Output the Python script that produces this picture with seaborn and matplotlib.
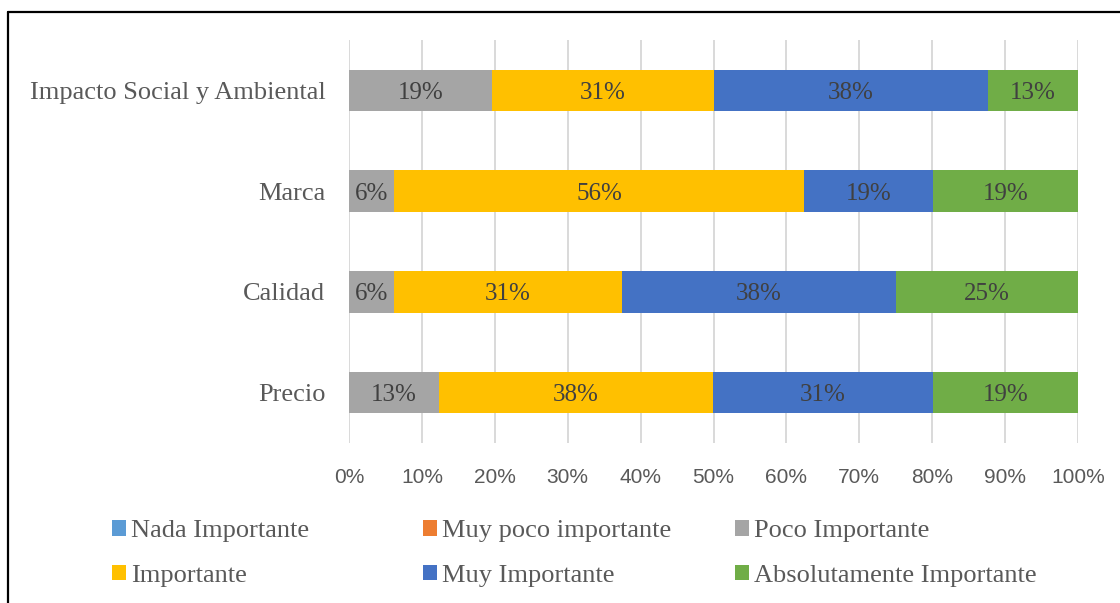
import matplotlib
matplotlib.use("Agg")
import matplotlib.pyplot as plt
from matplotlib.patches import Patch
from matplotlib.lines import Line2D
import seaborn as sns
import pandas as pd
import numpy as np

categories = ["Impacto Social y Ambiental", "Marca", "Calidad", "Precio"]
series = ["Nada Importante", "Muy poco importante", "Poco Importante",
          "Importante", "Muy Importante", "Absolutamente Importante"]
nada = [0.0, 0.0, 0.0, 0.0]
muy_poco = [0.0, 0.0, 0.0, 0.0]
poco = [19.6, 6.2, 6.2, 12.4]
importante = [30.4, 56.2, 31.2, 37.5]
muy_importante = [37.6, 17.7, 37.6, 30.2]
absolutamente = [12.4, 19.9, 25.0, 19.9]
poco_lbl = ["19%", "6%", "6%", "13%"]
importante_lbl = ["31%", "56%", "31%", "38%"]
muy_importante_lbl = ["38%", "19%", "38%", "31%"]
absolutamente_lbl = ["13%", "19%", "25%", "19%"]
xticks = [0, 10, 20, 30, 40, 50, 60, 70, 80, 90, 100]

colors = ["#5B9BD5", "#ED7D31", "#A5A5A5", "#FFC000", "#4472C4", "#70AD47"]
values = [nada, muy_poco, poco, importante, muy_importante, absolutamente]
labels = [None, None, poco_lbl, importante_lbl, muy_importante_lbl, absolutamente_lbl]

sns.set_theme(style="white")
plt.rcParams["font.family"] = ["Liberation Serif", "DejaVu Serif"]

fig = plt.figure(figsize=(11.2, 6.03), dpi=100)
ax = fig.add_axes([349 / 1120, 1 - 443 / 603, (1078 - 349) / 1120, (443 - 40) / 603])

arr = np.array(values)
cum = np.cumsum(arr, axis=0)
# draw cumulative totals from the last layer to the first
for i in range(len(series) - 1, -1, -1):
    df = pd.DataFrame({"cat": categories, "val": cum[i]})
    sns.barplot(data=df, y="cat", x="val", orient="h", color=colors[i],
                width=0.41, saturation=1, ax=ax, order=categories,
                edgecolor="none", linewidth=0, zorder=2)

# labels
for i in range(len(series)):
    if labels[i] is None:
        continue
    for j, cat in enumerate(categories):
        v = arr[i][j]
        if v <= 0:
            continue
        center = cum[i][j] - v / 2
        ax.text(center, j, labels[i][j], ha="center", va="center_baseline",
                fontsize=18, color="#404040", zorder=3)

ax.set_xlim(0, 100)
ax.set_ylim(3.5, -0.5)
ax.set_xticks(xticks)
ax.set_xticklabels([f"{t}%" for t in xticks], family=["Liberation Sans", "DejaVu Sans"],
                   fontsize=15, color="#595959")
ax.tick_params(axis="x", length=0, pad=18)
ax.tick_params(axis="y", length=0, pad=17, labelsize=19, labelcolor="#595959")
for lbl in ax.get_yticklabels():
    lbl.set_verticalalignment("center_baseline")
ax.set_xlabel("")
ax.set_ylabel("")
ax.grid(axis="x", color="#D9D9D9", linewidth=1.4, zorder=0)
ax.set_axisbelow(True)
for s in ax.spines.values():
    s.set_visible(False)

handles = [Patch(facecolor=c, edgecolor="none") for c in colors]
col_x = [112, 423, 735]
for k in range(3):
    hs = [handles[k], handles[k + 3]]
    ls = [series[k], series[k + 3]]
    fig.legend(hs, ls, loc="upper left", bbox_to_anchor=(col_x[k] / 1120, 1 - 520 / 603),
               frameon=False, fontsize=19, labelcolor="#595959",
               handlelength=0.53, handleheight=0.53, handletextpad=0.2,
               labelspacing=0.85, borderpad=0, borderaxespad=0)

# outer frame lines (top and left)
fig.add_artist(Line2D([8 / 1120, 1.0], [1 - 12 / 603, 1 - 12 / 603], color="black", lw=1.6))
fig.add_artist(Line2D([8 / 1120, 8 / 1120], [0.0, 1 - 12 / 603], color="black", lw=1.6))

fig.savefig("out.png", dpi=100, facecolor="white")
